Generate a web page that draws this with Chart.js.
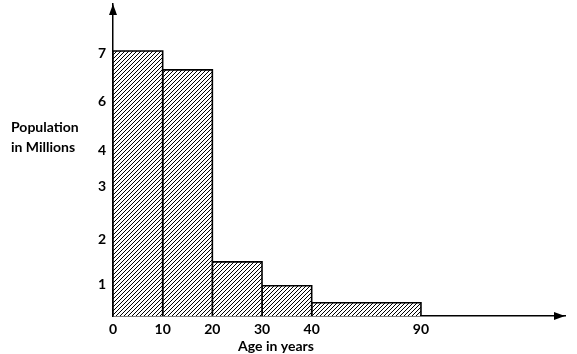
<!DOCTYPE html>
<html lang="en">
<head>
<meta charset="UTF-8">
<title>Population in Millions by Age</title>
<style>
  body { margin: 0; background: #fff; }
</style>
</head>
<body>
<canvas id="histChart" width="577" height="354"></canvas>

<script src="https://cdn.jsdelivr.net/npm/chart.js"></script>
<script>
// age classes (years) and population of each class (millions)
const ageEdges = [0, 10, 20, 30, 40, 90];
const population = [7, 6.5, 1.43, 0.8, 0.35];

// y tick labels, and the axis value each one is drawn at
const yTickLabels = ['1', '2', '3', '4', '6', '7'];
const yTickValues = [0.82, 2.03, 3.43, 4.36, 5.67, 6.92];

// x tick labels (class edges)
const xTickLabels = ['0', '10', '20', '30', '40', '90'];

// the age axis is broken after 40, the last class is drawn shorter
function squeeze(age) {
  return age <= 40 ? age : 40 + (age - 40) * 0.44;
}

// diagonal hatch like ////
function makeHatch() {
  const c = document.createElement('canvas');
  c.width = 4;
  c.height = 4;
  const g = c.getContext('2d');
  g.fillStyle = '#fff';
  g.fillRect(0, 0, 4, 4);
  g.fillStyle = '#000';
  for (let i = 0; i < 4; i++) {
    g.fillRect(i, 3 - i, 1, 1);
  }
  return g.createPattern(c, 'repeat');
}

const hatch = makeHatch();

// one closed outline per class
const datasets = population.map((v, i) => {
  const x0 = squeeze(ageEdges[i]);
  const x1 = squeeze(ageEdges[i + 1]);
  return {
    data: [{x: x0, y: 0}, {x: x0, y: v}, {x: x1, y: v}, {x: x1, y: 0}],
    borderColor: '#000',
    borderWidth: 1.6,
    backgroundColor: hatch,
    fill: 'origin',
    pointRadius: 0,
    tension: 0
  };
});

// arrows on the axes and the free standing titles
const decor = {
  id: 'decor',
  afterDraw(chart) {
    const ctx = chart.ctx;
    const a = chart.chartArea;
    ctx.save();
    ctx.fillStyle = '#000';
    ctx.beginPath();
    ctx.moveTo(a.left, a.top);
    ctx.lineTo(a.left - 4, a.top + 11);
    ctx.lineTo(a.left + 4, a.top + 11);
    ctx.closePath();
    ctx.fill();
    ctx.beginPath();
    ctx.moveTo(a.right, a.bottom);
    ctx.lineTo(a.right - 11, a.bottom - 4);
    ctx.lineTo(a.right - 11, a.bottom + 4);
    ctx.closePath();
    ctx.fill();

    ctx.font = 'bold 14px Lato';
    ctx.textBaseline = 'alphabetic';
    ctx.textAlign = 'left';
    ctx.fillText('Population', 11, 132);
    ctx.fillText('in Millions', 11, 152);
    ctx.textAlign = 'center';
    ctx.fillText('Age in years', 276, 351);
    ctx.restore();
  }
};

const tickFont = {family: 'Lato', size: 14, weight: 'bold'};

new Chart(document.getElementById('histChart'), {
  type: 'line',
  data: {datasets: datasets},
  options: {
    responsive: false,
    animation: false,
    layout: {padding: {top: 4, right: 12, left: 0, bottom: 0}},
    plugins: {
      legend: {display: false},
      tooltip: {enabled: false}
    },
    scales: {
      x: {
        type: 'linear',
        min: 0,
        max: 91,
        grid: {display: false, drawTicks: false},
        border: {color: '#000', width: 1.5},
        afterBuildTicks: s => { s.ticks = ageEdges.map(e => ({value: squeeze(e)})); },
        afterFit: s => { s.height = 38; s.paddingLeft = 0; s.paddingRight = 0; },
        ticks: {
          color: '#000',
          font: tickFont,
          padding: 5,
          autoSkip: false,
          maxRotation: 0,
          callback: (v, i) => xTickLabels[i]
        }
      },
      y: {
        min: 0,
        max: 8.24,
        grid: {display: false, drawTicks: false},
        border: {color: '#000', width: 1.5},
        afterBuildTicks: s => { s.ticks = yTickValues.map(v => ({value: v})); },
        afterFit: s => { s.width = 113; s.paddingTop = 0; s.paddingBottom = 0; },
        ticks: {
          color: '#000',
          font: tickFont,
          padding: 7,
          autoSkip: false,
          callback: (v, i) => yTickLabels[i]
        }
      }
    }
  },
  plugins: [decor]
});
</script>
</body>
</html>
